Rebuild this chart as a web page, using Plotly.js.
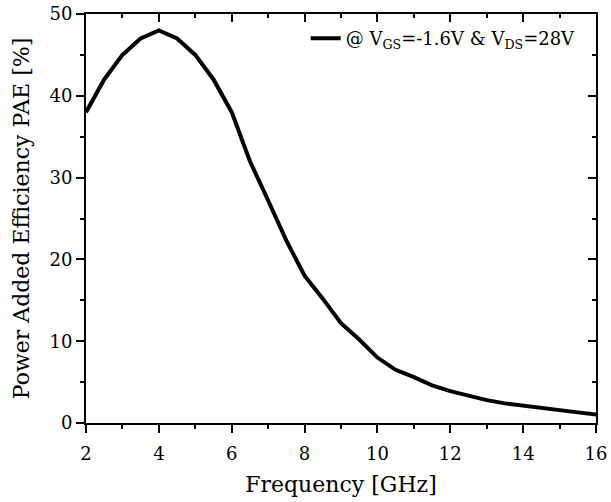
<!DOCTYPE html>
<html>
<head>
<meta charset="utf-8">
<script src="https://cdn.plot.ly/plotly-3.0.1.min.js"></script>
<style>
  html, body { margin: 0; padding: 0; background: #fff; }
  #chart { width: 611px; height: 502px; }
</style>
</head>
<body>
<div id="chart"></div>
<script>
// PAE vs frequency
const freq = [2, 2.5, 3, 3.5, 4, 4.5, 5, 5.5, 6, 6.5, 7, 7.5, 8, 8.5, 9, 9.5, 10, 10.5, 11, 11.5, 12, 12.5, 13, 13.5, 14, 14.5, 15, 15.5, 16];
const pae = [38, 42, 45, 47, 48, 47, 45, 42, 38, 32, 27.2, 22.3, 18, 15.2, 12.2, 10.2, 8, 6.5, 5.6, 4.6, 3.9, 3.3, 2.8, 2.4, 2.1, 1.8, 1.5, 1.3, 1.05];
const legendName = "@ V<sub>GS</sub>=-1.6V & V<sub>DS</sub>=28V";

const font = "DejaVu Serif";

const axisBase = {
  showline: true,
  linecolor: "#000",
  linewidth: 2,
  showgrid: false,
  zeroline: false,
  tickwidth: 2,
  tickcolor: "#000",
  ticklen: 8,
  tickfont: { family: font, size: 18, color: "#000" }
};

Plotly.newPlot("chart", [
  {
    x: freq,
    y: pae,
    name: legendName,
    type: "scatter",
    mode: "lines",
    line: { color: "#000", width: 4 }
  },
  {
    // empty trace so the mirrored top/right axes get drawn
    x: [], y: [],
    xaxis: "x2", yaxis: "y2",
    showlegend: false,
    hoverinfo: "skip"
  }
], {
  width: 611,
  height: 502,
  margin: { l: 86, r: 15, t: 14, b: 79 },
  paper_bgcolor: "#fff",
  plot_bgcolor: "#fff",
  font: { family: font, color: "#000" },
  showlegend: true,
  legend: {
    x: 0.97, y: 0.985, xanchor: "right", yanchor: "top",
    bgcolor: "rgba(0,0,0,0)",
    font: { family: font, size: 18, color: "#000" }
  },
  xaxis: Object.assign({}, axisBase, {
    range: [2, 16],
    dtick: 2,
    ticks: "outside",
    ticklabelstandoff: 5,
    minor: { dtick: 1, ticks: "outside", ticklen: 4, tickwidth: 2, tickcolor: "#000" },
    title: { text: "Frequency [GHz]", font: { family: font, size: 22, color: "#000" }, standoff: 14 }
  }),
  yaxis: Object.assign({}, axisBase, {
    range: [0, 50],
    dtick: 10,
    ticks: "outside",
    minor: { dtick: 5, ticks: "outside", ticklen: 4, tickwidth: 2, tickcolor: "#000" },
    title: { text: "Power Added Efficiency PAE [%]", font: { family: font, size: 22, color: "#000" }, standoff: 14 }
  }),
  xaxis2: Object.assign({}, axisBase, {
    overlaying: "x", side: "top", anchor: "y",
    range: [2, 16], dtick: 2,
    ticks: "inside", showticklabels: false,
    minor: { dtick: 1, ticks: "inside", ticklen: 4, tickwidth: 2, tickcolor: "#000" }
  }),
  yaxis2: Object.assign({}, axisBase, {
    overlaying: "y", side: "right", anchor: "x",
    range: [0, 50], dtick: 10,
    ticks: "inside", showticklabels: false,
    minor: { dtick: 5, ticks: "inside", ticklen: 4, tickwidth: 2, tickcolor: "#000" }
  })
}, { displayModeBar: false, staticPlot: true });
</script>
</body>
</html>
